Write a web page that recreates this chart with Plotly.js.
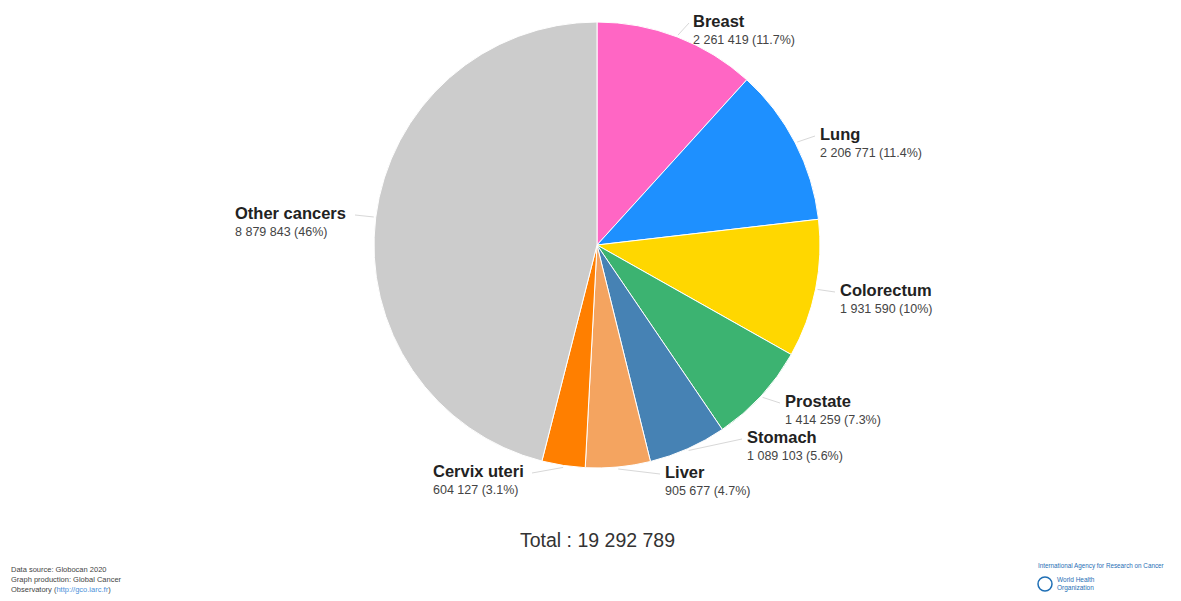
<!DOCTYPE html>
<html>
<head>
<meta charset="utf-8">
<script src="https://cdn.plot.ly/plotly-3.0.1.min.js"></script>
<style>html,body{margin:0;padding:0;background:#fff;}#chart{width:1181px;height:601px;}</style>
</head>
<body>
<div id="chart"></div>
<script>
// ---- data ----
const cancers = ["Breast", "Lung", "Colorectum", "Prostate", "Stomach", "Liver", "Cervix uteri", "Other cancers"];
const newCases = [2261419, 2206771, 1931590, 1414259, 1089103, 905677, 604127, 8879843];
const shareLabels = ["11.7%", "11.4%", "10%", "7.3%", "5.6%", "4.7%", "3.1%", "46%"];
const sliceColors = ["#ff66c4", "#1e90ff", "#ffd700", "#3cb371", "#4682b4", "#f4a460", "#ff7f00", "#cccccc"];
const totalLabel = "Total : 19 292 789";

// ---- label layout (pixel positions of label text, not data) ----
const labelLeft = [691, 818, 838, 783, 745, 663, 431, 233];
const labelTop  = [21, 134, 290, 401, 437, 472, 471, 213];
const linkEndX  = [689, 815, 835, 780, 742, 660, 532, 355];

const W = 1181, H = 601;
const cx = 597, cy = 245, R = 223;

function fmt(n){ return String(n).replace(/\B(?=(\d{3})+(?!\d))/g, " "); }
const px2x = p => p / W;
const px2y = p => 1 - p / H;

const total = newCases.reduce((a,b)=>a+b,0);
const annotations = [];
const shapes = [];
let cum = 0;
cancers.forEach((name, i) => {
  const mid = (cum + newCases[i] / 2) / total * 2 * Math.PI;
  cum += newCases[i];
  const ex = cx + (R + 2) * Math.sin(mid);
  const ey = cy - (R + 2) * Math.cos(mid);
  annotations.push({
    xref: "paper", yref: "paper", x: px2x(labelLeft[i]), y: px2y(labelTop[i]),
    xanchor: "left", yanchor: "middle", showarrow: false,
    text: "<b>" + name + "</b>",
    font: {family: "Liberation Sans, Arial, sans-serif", size: 16.5, color: "#222"}
  });
  annotations.push({
    xref: "paper", yref: "paper", x: px2x(labelLeft[i]), y: px2y(labelTop[i] + 19),
    xanchor: "left", yanchor: "middle", showarrow: false,
    text: fmt(newCases[i]) + " (" + shareLabels[i] + ")",
    font: {family: "Liberation Sans, Arial, sans-serif", size: 12.5, color: "#444"}
  });
  shapes.push({
    type: "line", xref: "paper", yref: "paper",
    x0: px2x(ex), y0: px2y(ey), x1: px2x(linkEndX[i]), y1: px2y(labelTop[i] + 2),
    line: {color: "#d8d8d8", width: 1}
  });
});

annotations.push({
  xref: "paper", yref: "paper", x: px2x(cx), y: px2y(540), xanchor: "center", yanchor: "middle",
  showarrow: false, text: totalLabel,
  font: {family: "Liberation Sans, Arial, sans-serif", size: 19.5, color: "#333"}
});
annotations.push({
  xref: "paper", yref: "paper", x: px2x(9), y: px2y(579), xanchor: "left", yanchor: "middle",
  showarrow: false, align: "left",
  text: "Data source: Globocan 2020<br>Graph production: Global Cancer<br>Observatory (<span style='color:#4a90d9'>http://gco.iarc.fr</span>)",
  font: {family: "Liberation Sans, Arial, sans-serif", size: 7.5, color: "#444"}
});
annotations.push({
  xref: "paper", yref: "paper", x: px2x(1036), y: px2y(566), xanchor: "left", yanchor: "middle",
  showarrow: false, text: "International Agency for Research on Cancer",
  font: {family: "Liberation Sans, Arial, sans-serif", size: 6.3, color: "#1f6fb5"}
});
annotations.push({
  xref: "paper", yref: "paper", x: px2x(1055), y: px2y(584), xanchor: "left", yanchor: "middle",
  showarrow: false, align: "left", text: "World Health<br>Organization",
  font: {family: "Liberation Sans, Arial, sans-serif", size: 6.5, color: "#1f6fb5"}
});
shapes.push({
  type: "circle", xref: "paper", yref: "paper",
  x0: px2x(1038), x1: px2x(1052), y0: px2y(591), y1: px2y(577),
  line: {color: "#1f6fb5", width: 1.5}
});

const trace = {
  type: "pie",
  labels: cancers,
  values: newCases,
  sort: false,
  direction: "clockwise",
  rotation: 0,
  textinfo: "none",
  hoverinfo: "label+value+percent",
  marker: {colors: sliceColors, line: {color: "#ffffff", width: 1}},
  domain: {x: [(cx - R) / W, (cx + R) / W], y: [1 - (cy + R) / H, 1 - (cy - R) / H]}
};

Plotly.newPlot("chart", [trace], {
  width: W, height: H,
  margin: {l: 0, r: 0, t: 0, b: 0},
  paper_bgcolor: "#ffffff",
  showlegend: false,
  annotations: annotations,
  shapes: shapes
}, {displayModeBar: false, staticPlot: true});
</script>
</body>
</html>
